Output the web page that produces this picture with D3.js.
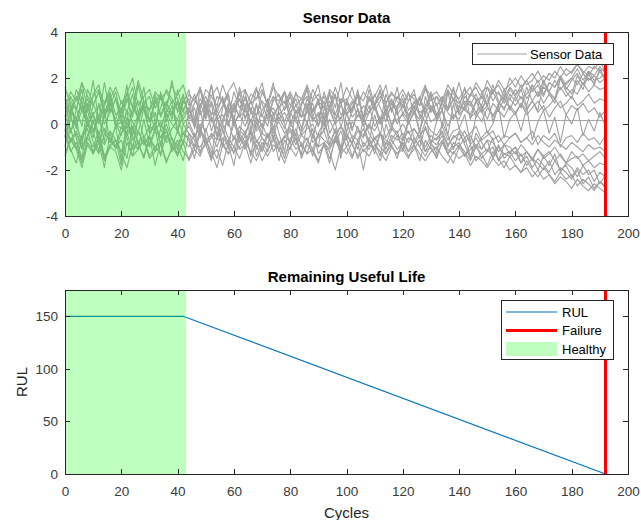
<!DOCTYPE html>
<html>
<head>
<meta charset="utf-8">
<script src="https://cdn.jsdelivr.net/npm/d3@7"></script>
<style>
  html, body { margin: 0; padding: 0; background: #fff; }
  svg { display: block; font-family: "Liberation Sans", Arial, Helvetica, sans-serif; }
</style>
</head>
<body>
<svg id="chart" width="641" height="520"></svg>
<script>
// ---------------- DATA ----------------
const cycleStep = 2;           // sensor readings sampled every 2 cycles (0..192)
const failureCycle = 192;
const healthyEnd = 43;
const flatSensorLevel = 0.15;  // one sensor stays constant

const sensor1 = [1.2,0.4,1.5,0.9,0.2,1.3,1.7,0.6,0.8,1.4,0.3,1.0,1.6,0.5,0.9,1.2,0.1,0.7,1.5,1.1,
  0.6,1.3,0.2,0.9,1.6,0.8,0.4,1.2,1.0,0.3,1.4,0.7,1.1,0.5,1.5,0.9,0.2,1.0,1.3,0.6,
  1.2,0.5,0.8,1.5,0.3,1.0,0.7,1.3,0.4,1.1,0.9,1.6,0.6,0.2,1.2,0.8,1.4,0.5,1.0,0.7,
  1.3,0.6,0.9,1.1,0.4,1.4,0.8,1.2,0.7,1.5,1.0,0.6,1.3,1.1,0.8,1.6,1.0,1.4,0.9,1.5,
  1.2,1.7,1.1,1.5,1.9,1.3,1.8,1.6,2.1,1.7,2.0,2.4,1.9,2.3,2.1,2.5,2.2];
const sensor2 = [0.2,0.9,-0.1,0.6,1.1,0.3,0.0,0.8,1.3,0.4,0.7,-0.2,0.5,1.0,0.6,0.1,0.9,1.2,0.3,0.5,
  1.0,0.2,0.7,-0.1,0.8,1.2,0.4,0.6,0.0,0.9,0.5,1.1,0.3,0.7,-0.2,0.6,1.0,0.4,0.8,0.1,
  0.7,1.1,0.3,0.5,0.9,-0.1,0.6,1.0,0.2,0.8,0.4,0.7,1.2,0.3,0.5,0.9,0.0,0.6,1.1,0.4,
  0.8,0.3,1.0,0.5,0.7,1.2,0.4,0.9,0.6,1.1,0.5,1.0,0.8,1.3,0.7,1.0,1.4,0.9,1.2,1.1,
  1.5,1.1,1.3,1.7,1.2,1.6,1.4,1.9,1.5,1.8,2.0,1.7,2.2,1.9,2.1,1.8,2.0];
const sensor3 = [1.5,1.0,0.6,1.8,1.2,0.8,1.4,0.5,1.1,1.6,0.9,1.3,0.7,1.9,1.0,0.6,1.4,1.1,0.8,1.7,
  1.1,0.5,1.3,1.0,0.7,1.5,1.2,0.8,1.7,1.0,0.6,1.3,1.5,0.9,1.1,1.8,0.7,1.2,1.0,1.4,
  0.8,1.3,1.1,0.6,1.5,1.0,1.2,0.7,1.6,0.9,1.1,0.5,1.3,1.0,1.7,0.8,1.2,0.9,1.4,1.0,
  0.7,1.3,1.1,0.8,1.5,1.0,1.2,0.6,1.4,1.1,0.9,1.3,1.6,1.0,1.2,0.8,1.5,1.3,1.1,1.6,
  1.3,1.5,1.9,1.4,1.7,1.2,1.8,1.6,2.0,1.5,1.9,2.2,1.7,2.0,1.8,2.3,1.9];
const sensor4 = [-0.3,0.6,0.2,1.0,-0.1,0.4,0.8,0.0,0.5,1.1,0.2,-0.4,0.7,0.3,0.9,0.1,0.5,-0.2,0.6,0.4,
  0.9,0.0,0.3,0.7,-0.3,0.5,1.0,0.2,0.4,-0.1,0.8,0.3,0.6,0.1,0.9,-0.2,0.4,0.7,0.2,0.5,
  0.0,0.6,0.3,0.9,0.1,0.5,-0.3,0.7,0.4,0.2,1.0,0.3,0.6,-0.1,0.5,0.8,0.2,0.4,0.7,0.0,
  0.5,0.2,0.8,0.4,0.1,0.7,0.3,0.9,0.5,0.2,0.8,0.6,0.4,1.0,0.5,0.8,0.3,0.9,0.7,1.1,
  0.8,1.2,0.7,1.0,1.4,0.9,1.3,1.1,1.6,1.2,1.5,1.3,1.8,1.4,1.7,1.5,1.6];
const sensor5 = [-0.9,-0.2,-1.1,-0.5,0.1,-0.8,-1.3,-0.4,-0.7,-1.0,-0.1,-0.6,-1.4,-0.3,-0.9,-0.5,-1.2,-0.2,-0.8,-0.6,
  -1.1,-0.4,-0.7,-1.5,-0.3,-0.9,-0.6,-0.1,-1.0,-0.7,-1.3,-0.4,-0.8,-0.2,-1.1,-0.6,-0.9,-0.3,-1.2,-0.5,
  -0.8,-0.2,-1.0,-0.6,-1.4,-0.4,-0.7,-0.9,-0.3,-1.1,-0.5,-0.8,-0.1,-1.0,-0.6,-1.3,-0.4,-0.7,-0.9,-0.5,
  -1.1,-0.6,-0.8,-0.3,-1.2,-0.7,-0.9,-0.5,-1.3,-0.8,-1.0,-0.6,-1.4,-0.9,-1.1,-0.7,-1.5,-1.0,-1.3,-1.2,
  -1.6,-1.3,-1.8,-1.5,-1.7,-2.0,-1.6,-2.2,-1.9,-2.1,-2.4,-2.0,-2.6,-2.3,-2.8,-2.5,-2.7];
const sensor6 = [-0.5,-1.2,-0.8,-1.6,-0.6,-1.0,-0.3,-1.4,-0.9,-0.7,-1.8,-0.4,-1.1,-0.8,-1.5,-0.6,-1.0,-1.3,-0.5,-0.9,
  -1.4,-0.7,-1.0,-0.4,-1.2,-0.9,-1.6,-0.6,-0.8,-1.3,-0.5,-1.1,-0.9,-1.7,-0.7,-1.0,-0.4,-1.2,-0.8,-1.5,
  -0.6,-1.1,-0.9,-1.3,-0.5,-1.0,-0.8,-1.5,-0.7,-1.2,-0.4,-0.9,-1.4,-0.8,-1.1,-0.6,-1.0,-1.3,-0.7,-1.1,
  -0.8,-1.2,-0.6,-1.0,-1.4,-0.9,-1.1,-0.7,-1.3,-1.0,-0.8,-1.4,-1.1,-0.9,-1.5,-1.2,-1.0,-1.6,-1.3,-1.4,
  -1.2,-1.7,-1.4,-1.9,-1.5,-1.8,-2.1,-1.6,-2.0,-1.8,-2.3,-1.9,-2.2,-2.0,-2.5,-2.1,-2.3];
const sensor7 = [0.0,-0.7,-0.3,-1.0,-0.5,0.2,-0.8,-0.2,-0.6,-1.1,-0.4,0.1,-0.7,-0.3,-0.9,-0.5,0.0,-0.6,-0.2,-1.0,
  -0.3,-0.8,0.1,-0.5,-0.2,-0.9,-0.4,-0.7,0.0,-0.6,-1.0,-0.3,-0.5,0.2,-0.8,-0.4,-0.6,-0.1,-0.9,-0.5,
  -0.2,-0.7,-0.4,0.1,-0.8,-0.5,-0.3,-1.0,-0.6,-0.1,-0.5,-0.8,-0.3,-0.6,0.0,-0.7,-0.4,-0.9,-0.2,-0.5,
  -0.7,-0.3,-0.9,-0.5,-0.2,-0.8,-0.6,-0.4,-1.0,-0.5,-0.7,-0.3,-0.9,-0.6,-1.1,-0.7,-0.8,-1.2,-0.9,-1.0,
  -1.3,-0.9,-1.2,-1.5,-1.1,-1.4,-1.2,-1.6,-1.3,-1.7,-1.5,-1.4,-1.8,-1.6,-1.9,-1.7,-1.8];
const sensor8 = [-1.3,-0.6,-1.0,-1.7,-0.8,-1.2,-0.5,-1.5,-1.0,-0.7,-1.3,-1.9,-0.9,-1.1,-0.6,-1.4,-1.0,-0.8,-1.6,-1.1,
  -0.7,-1.2,-1.5,-0.9,-1.0,-0.6,-1.4,-1.1,-1.8,-0.8,-1.2,-1.0,-0.5,-1.3,-0.9,-1.6,-1.1,-0.7,-1.0,-1.3,
  -1.0,-0.6,-1.4,-0.9,-1.2,-1.7,-0.8,-1.1,-0.6,-1.3,-1.0,-1.5,-0.7,-1.2,-0.9,-1.1,-1.6,-0.8,-1.0,-1.3,
  -0.9,-1.4,-1.1,-0.7,-1.2,-1.0,-1.5,-0.8,-1.1,-1.3,-0.9,-1.2,-1.6,-1.0,-1.3,-1.1,-1.4,-0.9,-1.5,-1.2,
  -1.0,-1.4,-1.2,-1.6,-1.1,-1.5,-1.3,-1.0,-1.4,-1.7,-1.2,-1.5,-1.3,-1.6,-1.4,-1.2,-1.5];
const sensor9 = [0.9,0.3,1.2,0.6,0.0,0.8,1.4,0.4,0.7,0.2,1.0,0.5,1.3,0.1,0.8,0.6,1.1,0.3,0.9,0.5,
  0.2,1.0,0.6,1.3,0.4,0.8,0.1,0.7,1.1,0.5,0.9,0.3,1.2,0.6,0.4,1.0,0.7,0.2,0.9,1.4,
  0.5,0.8,0.3,1.1,0.6,0.9,0.2,0.7,1.2,0.4,0.6,1.0,0.3,0.8,0.5,1.3,0.7,0.1,0.9,0.6,
  1.0,0.4,0.7,1.2,0.5,0.8,0.3,0.9,0.6,1.1,0.4,0.7,1.0,0.5,0.8,0.2,0.9,0.6,1.1,0.7,
  0.4,0.9,0.6,1.0,0.5,0.8,0.3,0.7,1.0,0.4,0.8,0.6,0.9,0.5,0.7,0.3,0.6];
const sensor10 = [-0.2,-0.8,-0.4,-1.1,-0.6,0.1,-0.5,-0.9,-0.3,-0.7,-1.2,-0.4,-0.1,-0.8,-0.5,-1.0,-0.3,-0.6,0.0,-0.7,
  -0.9,-0.4,-0.6,-1.1,-0.2,-0.7,-0.5,-1.0,-0.3,-0.8,0.0,-0.6,-0.9,-0.4,-0.7,-1.2,-0.5,-0.2,-0.8,-0.6,
  -0.3,-0.9,-0.5,-0.7,-1.1,-0.4,0.1,-0.6,-0.8,-0.3,-1.0,-0.5,-0.7,-0.2,-0.9,-0.6,-0.4,-1.1,-0.5,-0.7,
  -0.4,-0.8,-0.2,-0.6,-1.0,-0.5,-0.7,-0.3,-0.9,-0.6,-0.4,-0.8,-0.5,-1.0,-0.6,-0.3,-0.7,-0.5,-0.9,-0.6,
  -0.4,-0.8,-0.6,-0.3,-0.9,-0.5,-0.7,-0.4,-1.0,-0.6,-0.5,-0.8,-0.4,-0.7,-0.6,-0.9,-0.5];
const sensor11 = [0.4,-0.3,0.2,0.8,-0.1,0.5,-0.5,0.3,0.9,0.0,-0.2,0.6,0.1,-0.4,0.7,0.2,0.4,-0.1,0.5,0.0,
  -0.3,0.4,0.7,0.1,-0.2,0.6,0.3,-0.5,0.2,0.8,0.0,0.4,-0.1,0.5,0.2,-0.4,0.6,0.1,0.3,-0.2,
  0.5,0.1,-0.3,0.6,0.2,0.4,-0.1,0.7,0.0,0.3,0.5,-0.2,0.4,0.1,0.8,-0.1,0.3,0.6,0.0,0.2,
  0.4,0.0,0.5,0.2,0.7,0.1,0.3,0.6,-0.1,0.4,0.2,0.8,0.3,0.5,0.1,0.7,0.4,0.6,0.3,0.8,
  0.5,0.9,0.4,0.7,1.0,0.6,0.8,1.1,0.7,0.9,1.2,0.8,1.0,1.3,0.9,1.1,1.0];
const sensor12 = [-0.5,0.2,-0.1,-0.7,0.0,-0.4,0.3,-0.3,-0.8,-0.1,0.1,-0.5,-0.2,0.4,-0.6,-0.1,-0.3,0.1,-0.7,-0.2,
  0.2,-0.4,-0.1,-0.6,0.0,-0.3,0.3,-0.5,-0.2,0.1,-0.7,-0.1,-0.4,0.2,-0.3,0.0,-0.6,-0.2,0.1,-0.4,
  -0.1,0.3,-0.5,-0.2,0.0,-0.6,-0.3,0.2,-0.4,-0.1,-0.7,0.1,-0.2,-0.5,0.0,-0.3,0.2,-0.6,-0.1,-0.4,
  0.0,-0.4,-0.2,-0.6,0.1,-0.3,-0.5,-0.1,-0.7,-0.3,-0.2,-0.6,-0.4,-0.1,-0.7,-0.5,-0.3,-0.8,-0.5,-0.6,
  -0.4,-0.8,-0.6,-0.9,-0.5,-0.8,-1.0,-0.7,-0.9,-1.1,-0.8,-1.0,-1.2,-0.9,-1.1,-1.0,-1.2];
const sensor13 = [0.7,1.4,1.0,1.8,0.6,1.2,1.5,0.9,1.6,1.1,0.5,1.3,2.0,0.8,1.2,1.5,0.7,1.1,1.4,0.9,
  1.3,1.7,0.8,1.1,1.5,0.6,1.2,1.6,0.9,1.4,1.8,1.0,0.7,1.3,1.1,1.5,0.8,1.6,1.2,0.9,
  1.4,0.8,1.1,1.7,1.0,1.3,0.7,1.5,1.2,0.9,1.6,1.1,0.8,1.4,1.0,1.2,1.7,0.9,1.3,1.1,
  1.5,1.0,1.3,0.8,1.6,1.2,1.4,1.0,1.7,1.3,1.1,1.5,1.2,1.8,1.4,1.6,1.3,1.9,1.5,1.7,
  2.0,1.6,1.9,2.2,1.8,2.1,1.9,2.3,2.0,2.4,2.2,2.6,2.3,2.1,2.5,2.3,2.4];
const sensor14 = [-1.4,-0.7,-1.1,-1.9,-0.9,-1.3,-0.6,-1.6,-1.0,-1.2,-2.0,-0.8,-1.4,-1.1,-0.7,-1.5,-1.2,-0.9,-1.7,-1.0,
  -1.3,-0.8,-1.6,-1.1,-1.4,-0.7,-1.2,-1.9,-0.9,-1.3,-1.0,-1.5,-0.8,-1.2,-1.6,-1.0,-1.4,-0.9,-1.1,-1.7,
  -1.0,-1.4,-0.8,-1.3,-1.1,-1.6,-0.9,-1.2,-2.0,-1.0,-1.3,-0.8,-1.5,-1.1,-1.4,-0.9,-1.2,-1.6,-1.0,-1.3,
  -1.1,-1.5,-0.9,-1.3,-1.6,-1.2,-1.0,-1.4,-1.7,-1.2,-1.5,-1.3,-1.8,-1.4,-1.6,-1.9,-1.5,-1.8,-1.6,-2.0,
  -1.8,-2.1,-1.9,-2.3,-2.0,-2.4,-2.2,-2.6,-2.3,-2.5,-2.8,-2.4,-2.7,-2.9,-2.6,-2.8,-3.0];
const sensor15 = [1.1,-0.4,0.6,1.5,0.0,-0.6,0.9,0.3,1.3,-0.2,0.5,1.7,-0.5,0.2,1.0,0.6,-0.3,1.4,0.1,0.8,
  -0.4,1.2,0.4,-0.1,1.6,0.2,0.9,-0.6,0.7,1.3,0.0,0.5,1.5,-0.3,0.8,0.3,1.1,-0.2,0.6,1.4,
  0.1,-0.5,0.9,1.2,0.3,-0.1,1.4,0.6,0.0,1.0,-0.4,0.7,1.3,0.2,-0.2,0.9,1.5,0.4,-0.3,0.8,
  1.1,0.0,0.6,-0.4,1.2,0.5,0.9,-0.1,1.4,0.3,0.7,1.6,0.2,1.0,0.5,1.3,0.1,0.8,1.5,0.6,
  1.2,0.7,1.6,1.0,0.6,1.8,1.3,0.9,2.0,1.4,1.1,1.9,1.5,2.2,1.7,2.4,1.9];
const sensor16 = [-1.0,0.4,-0.6,-1.5,0.1,-0.3,-1.2,0.6,-0.8,-0.1,-1.6,0.3,-0.5,-1.1,0.2,-0.9,-0.2,-1.4,0.5,-0.7,
  -1.3,0.0,-0.4,-1.0,0.7,-0.6,-1.5,0.2,-0.2,-1.1,0.4,-0.8,-0.3,-1.4,0.1,-0.6,-1.0,0.5,-0.4,-1.2,
  0.2,-0.7,-1.3,0.0,-0.5,-1.0,0.4,-0.9,-0.2,-1.5,0.1,-0.6,-1.1,0.3,-0.4,-0.8,-1.4,0.0,-0.7,-0.3,
  -1.2,0.2,-0.6,-1.0,-0.1,-0.8,-1.3,0.1,-0.5,-1.1,-0.3,-0.9,-1.5,-0.4,-0.8,-1.2,-0.6,-1.6,-0.9,-1.3,
  -1.0,-1.7,-1.2,-1.5,-2.0,-1.4,-1.8,-1.3,-2.1,-1.7,-1.9,-2.3,-1.8,-2.2,-2.0,-2.6,-2.2];
const sensor17 = [0.3,1.2,0.7,-0.1,1.5,0.9,0.2,1.8,0.5,1.1,0.0,1.4,0.8,0.4,1.6,0.1,1.0,1.3,0.6,1.9,
  0.5,0.9,1.5,0.2,1.1,0.7,1.7,0.3,0.8,1.3,0.1,1.6,0.6,1.0,0.3,1.4,0.9,1.8,0.4,0.7,
  1.3,0.2,0.9,1.6,0.5,1.1,0.0,1.4,0.7,1.8,0.4,0.9,1.2,0.3,1.5,0.6,1.0,1.7,0.5,1.2,
  0.8,1.4,0.4,1.1,1.7,0.6,1.2,0.9,1.5,1.0,1.8,0.8,1.3,1.6,1.1,1.9,1.4,1.7,1.2,2.0,
  1.6,2.1,1.7,1.9,2.3,1.8,2.2,2.0,2.5,2.1,2.3,2.6,2.2,2.5,2.4,2.7,2.3];
const sensor18 = [-0.3,-1.1,-1.7,-0.6,-0.2,-1.3,-0.8,-1.9,-0.4,-1.0,-0.7,-1.5,-0.1,-0.9,-1.4,-0.5,-1.8,-0.8,-0.3,-1.2,
  -0.9,-1.6,-0.4,-0.7,-1.3,-0.2,-1.0,-1.5,-0.6,-0.9,-1.8,-0.5,-1.1,-0.3,-1.4,-0.8,-1.2,-0.5,-1.6,-0.7,
  -1.1,-0.4,-1.5,-0.8,-0.2,-1.3,-0.9,-1.7,-0.5,-1.0,-0.6,-1.4,-0.8,-2.0,-0.7,-1.1,-0.4,-1.3,-0.9,-1.5,
  -0.6,-1.2,-0.9,-1.6,-0.7,-1.1,-1.4,-0.8,-1.3,-1.7,-1.0,-1.4,-0.9,-1.6,-1.3,-1.8,-1.2,-1.5,-1.9,-1.4,
  -1.8,-2.1,-1.6,-2.0,-2.3,-1.9,-2.2,-2.5,-2.1,-2.4,-2.2,-2.7,-2.4,-2.6,-2.9,-2.5,-2.8];
const sensor19 = [-0.6,0.7,0.2,-1.0,0.9,-0.3,0.4,-0.8,1.1,0.0,-0.5,0.6,-1.1,0.3,0.8,-0.4,0.1,-0.9,0.5,1.0,
  -0.2,-0.9,0.6,0.1,-0.6,1.0,-0.3,0.4,-1.0,0.7,0.2,-0.5,0.9,-0.8,0.3,-0.1,0.8,-0.7,0.5,0.0,
  -0.9,0.6,-0.2,0.8,-0.6,0.3,1.0,-0.4,0.1,-1.1,0.5,-0.3,0.7,0.0,-0.8,0.4,-0.5,0.9,-0.1,0.6,
  -0.7,0.2,0.8,-0.3,0.5,-0.9,0.1,0.6,-0.5,0.9,-0.2,0.4,-0.8,0.3,0.7,-0.4,0.0,0.8,-0.6,0.2,
  0.5,-0.3,0.7,-0.7,0.1,0.6,-0.4,0.3,-0.8,0.4,0.0,0.7,-0.5,0.2,-0.3,0.5,-0.1];
const sensor20 = [1.6,0.8,-0.2,1.2,0.5,1.9,0.1,0.9,1.4,-0.1,0.7,1.1,0.3,1.7,0.6,-0.3,1.3,0.4,1.0,0.2,
  1.5,0.6,1.1,-0.2,0.9,0.3,1.7,0.5,1.2,0.0,0.8,1.4,0.2,1.0,1.6,0.4,-0.1,1.2,0.7,1.0,
  0.3,1.4,0.6,0.0,1.1,1.7,0.4,0.8,1.3,-0.2,0.9,0.5,1.5,0.2,1.1,0.7,0.0,1.3,0.6,1.6,
  0.4,1.0,1.5,0.3,0.8,1.3,0.1,1.1,0.7,1.6,0.5,1.2,0.9,0.3,1.4,0.8,1.7,1.0,0.6,1.3,
  1.0,1.5,0.8,1.7,1.2,1.9,1.4,1.1,2.0,1.6,1.3,2.1,1.7,2.3,1.9,2.0,2.2];

const sensors = [sensor1, sensor2, sensor3, sensor4, sensor5, sensor6, sensor7, sensor8, sensor9, sensor10,
                 sensor11, sensor12, sensor13, sensor14, sensor15, sensor16, sensor17, sensor18, sensor19, sensor20];

const rulCycles = [0, 42, 192];
const rulValues = [150, 150, 0];

const xTicks = [0, 20, 40, 60, 80, 100, 120, 140, 160, 180, 200];
const sensorYTicks = [-4, -2, 0, 2, 4];
const rulYTicks = [0, 50, 100, 150];

// ---------------- DRAW ----------------
const svg = d3.select("#chart");
const axisColor = "#262626";
const gray = "#a0a0a0";
const greenFill = "#00ff00";
const greenAlpha = 0.25;
const left = 65, right = 628;

const x = d3.scaleLinear().domain([0, 200]).range([left, right]);

function drawAxes(g, y, yTicks, top, bottom) {
  const tickLen = 5;
  g.append("rect").attr("x", left).attr("y", top).attr("width", right - left).attr("height", bottom - top)
    .attr("fill", "none").attr("stroke", axisColor).attr("stroke-width", 1).attr("shape-rendering", "crispEdges");
  const fmt = d => String(d);
  const bx = g.append("g").attr("transform", `translate(0,${bottom})`)
    .call(d3.axisBottom(x).tickValues(xTicks).tickSize(-tickLen).tickPadding(12).tickFormat(fmt));
  const tx = g.append("g").attr("transform", `translate(0,${top})`)
    .call(d3.axisTop(x).tickValues(xTicks).tickSize(-tickLen).tickFormat(""));
  const ly = g.append("g").attr("transform", `translate(${left},0)`)
    .call(d3.axisLeft(y).tickValues(yTicks).tickSize(-tickLen).tickPadding(7).tickFormat(fmt));
  const ry = g.append("g").attr("transform", `translate(${right},0)`)
    .call(d3.axisRight(y).tickValues(yTicks).tickSize(-tickLen).tickFormat(""));
  [bx, tx, ly, ry].forEach(a => {
    a.select(".domain").remove();
    a.selectAll(".tick line").attr("stroke", axisColor).attr("shape-rendering", "crispEdges");
    a.selectAll(".tick text").attr("fill", "#3a3a3a").style("font-size", "13.5px")
      .style("font-family", '"Liberation Sans", Arial, sans-serif');
  });
}

// ---- Top: Sensor Data ----
const t1 = 32, b1 = 216;
const y1 = d3.scaleLinear().domain([-4, 4]).range([b1, t1]);
const g1 = svg.append("g");
const line1 = d3.line().x((d, i) => x(i * cycleStep)).y(d => y1(d));
const plot1 = g1.append("g");
sensors.forEach(s => {
  plot1.append("path").datum(s).attr("d", line1).attr("fill", "none")
    .attr("stroke", gray).attr("stroke-width", 1.1).attr("stroke-linejoin", "round");
});
const flatSeries = sensor1.map(() => flatSensorLevel);
plot1.append("path").datum(flatSeries).attr("d", line1).attr("fill", "none")
  .attr("stroke", gray).attr("stroke-width", 1);
plot1.append("rect").attr("x", x(0)).attr("y", t1).attr("width", x(healthyEnd) - x(0)).attr("height", b1 - t1)
  .attr("fill", greenFill).attr("fill-opacity", greenAlpha);
plot1.append("line").attr("x1", x(failureCycle)).attr("x2", x(failureCycle)).attr("y1", b1).attr("y2", t1)
  .attr("stroke", "#ff0000").attr("stroke-width", 3);
drawAxes(g1, y1, sensorYTicks, t1, b1);
g1.append("text").attr("x", (left + right) / 2).attr("y", 23).attr("text-anchor", "middle")
  .attr("font-weight", "bold").attr("font-size", 15).attr("fill", "#000").text("Sensor Data");
const lg1 = g1.append("g");
lg1.append("rect").attr("x", 472.5).attr("y", 43.5).attr("width", 141).attr("height", 21)
  .attr("fill", "#fff").attr("stroke", axisColor).attr("stroke-width", 1);
lg1.append("line").attr("x1", 477).attr("x2", 527).attr("y1", 54).attr("y2", 54)
  .attr("stroke", gray).attr("stroke-width", 1);
lg1.append("text").attr("x", 530).attr("y", 58.5).attr("font-size", 13).attr("fill", "#000").text("Sensor Data");

// ---- Bottom: RUL ----
const t2 = 290, b2 = 474;
const y2 = d3.scaleLinear().domain([0, 175]).range([b2, t2]);
const g2 = svg.append("g");
const line2 = d3.line().x((d, i) => x(rulCycles[i])).y(d => y2(d));
g2.append("path").datum(rulValues).attr("d", line2).attr("fill", "none")
  .attr("stroke", "#0072BD").attr("stroke-width", 1.2);
g2.append("rect").attr("x", x(0)).attr("y", t2).attr("width", x(healthyEnd) - x(0)).attr("height", b2 - t2)
  .attr("fill", greenFill).attr("fill-opacity", greenAlpha);
g2.append("line").attr("x1", x(failureCycle)).attr("x2", x(failureCycle)).attr("y1", b2).attr("y2", t2)
  .attr("stroke", "#ff0000").attr("stroke-width", 3);
drawAxes(g2, y2, rulYTicks, t2, b2);
g2.append("text").attr("x", (left + right) / 2).attr("y", 282).attr("text-anchor", "middle")
  .attr("font-weight", "bold").attr("font-size", 15).attr("fill", "#000").text("Remaining Useful Life");
g2.append("text").attr("x", (left + right) / 2).attr("y", 518).attr("text-anchor", "middle")
  .attr("font-size", 15).attr("fill", "#262626").text("Cycles");
g2.append("text").attr("transform", `translate(27,382) rotate(-90)`).attr("text-anchor", "middle")
  .attr("font-size", 15).attr("fill", "#262626").text("RUL");
const lg2 = g2.append("g");
lg2.append("rect").attr("x", 501.5).attr("y", 300.5).attr("width", 112).attr("height", 59)
  .attr("fill", "#fff").attr("stroke", axisColor).attr("stroke-width", 1);
const items = [
  { label: "RUL", type: "line", color: "#0072BD", w: 1.2 },
  { label: "Failure", type: "line", color: "#ff0000", w: 3 },
  { label: "Healthy", type: "patch" }
];
items.forEach((it, i) => {
  const cy = 312 + i * 18.5;
  if (it.type === "line") {
    lg2.append("line").attr("x1", 506).attr("x2", 557).attr("y1", cy).attr("y2", cy)
      .attr("stroke", it.color).attr("stroke-width", it.w);
  } else {
    lg2.append("rect").attr("x", 506).attr("y", cy - 7).attr("width", 51).attr("height", 14)
      .attr("fill", greenFill).attr("fill-opacity", greenAlpha);
  }
  lg2.append("text").attr("x", 562).attr("y", cy + 4.5).attr("font-size", 13).attr("fill", "#000").text(it.label);
});
</script>
</body>
</html>
